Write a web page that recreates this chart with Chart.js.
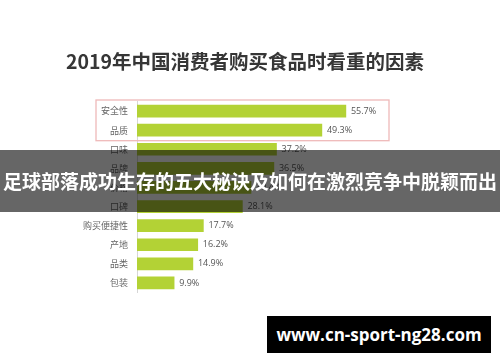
<!DOCTYPE html>
<html>
<head>
<meta charset="utf-8">
<script src="https://cdn.jsdelivr.net/npm/chart.js@4/dist/chart.umd.min.js"></script>
<style>
  html, body { margin: 0; padding: 0; background: #fff; }
  #wrap { position: relative; width: 500px; height: 362px; overflow: hidden; }
  #title {
    position: absolute; left: 0; top: 46px; width: 490px; text-align: center;
    font: bold 19.5px "Noto Sans CJK SC", sans-serif; color: #363636;
  }
  #banner {
    position: absolute; left: 0; top: 150px; width: 500px; height: 62px;
    background: rgba(0, 0, 0, 0.6); color: #fff; text-align: center;
    font: bold 19px/62px "Noto Sans CJK SC", sans-serif; white-space: nowrap;
  }
  #mark {
    position: absolute; left: 267px; top: 316px; width: 224px; height: 37px;
    background: #000; color: #fff; text-align: center;
    font: bold 17px/37px "Open Sans", "DejaVu Sans", sans-serif;
  }
</style>
</head>
<body>
<div id="wrap">
  <canvas id="chart" width="500" height="362"></canvas>
  <div id="title">2019年中国消费者购买食品时看重的因素</div>
  <div id="banner">足球部落成功生存的五大秘诀及如何在激烈竞争中脱颖而出</div>
  <div id="mark">www.cn-sport-ng28.com</div>
</div>
<script>
// chart data
const factors = ['安全性', '品质', '口味', '品牌', '价格', '口碑', '购买便捷性', '产地', '品类', '包装'];
const shares = [55.7, 49.3, 37.2, 36.5, 30.4, 28.1, 17.7, 16.2, 14.9, 9.9];

// draw the percent label at the end of each bar
const valueLabels = {
    id: 'valueLabels',
    afterDatasetsDraw(chart) {
        const ctx = chart.ctx;
        ctx.save();
        ctx.font = '9px "Open Sans", sans-serif';
        ctx.fillStyle = '#555';
        ctx.textBaseline = 'middle';
        chart.getDatasetMeta(0).data.forEach((bar, i) => {
            ctx.fillText(shares[i].toFixed(1) + '%', bar.x + 5, bar.y);
        });
        ctx.restore();
    }
};

// pink frame around the first two rows
const highlightBox = {
    id: 'highlightBox',
    afterDraw(chart) {
        const y = chart.scales.y;
        const x = chart.scales.x;
        const step = y.getPixelForValue(1) - y.getPixelForValue(0);
        const top = y.getPixelForValue(0) - step / 2 - 1.5;
        const bottom = y.getPixelForValue(1) + step / 2 + 1;
        const left = chart.chartArea.left - 41;
        const right = x.getPixelForValue(60) + 27;
        const ctx = chart.ctx;
        ctx.save();
        ctx.strokeStyle = '#efb9b9';
        ctx.lineWidth = 1.3;
        ctx.strokeRect(left, top, right - left, bottom - top);
        ctx.restore();
    }
};

new Chart(document.getElementById('chart'), {
    type: 'bar',
    data: {
        labels: factors,
        datasets: [{
            data: shares,
            backgroundColor: '#b3d235',
            barThickness: 12
        }]
    },
    options: {
        indexAxis: 'y',
        responsive: false,
        animation: false,
        layout: { padding: { top: 101.5, bottom: 69.5, left: 0, right: 138 } },
        plugins: { legend: { display: false }, tooltip: { enabled: false } },
        scales: {
            x: { display: false, min: 0, max: 60 },
            y: {
                afterFit(scale) { scale.width = 137; },
                grid: { display: false, drawTicks: false },
                border: { color: '#d6d6d6', width: 1 },
                ticks: {
                    padding: 9,
                    color: '#666',
                    font: { size: 9, family: '"Noto Sans CJK SC", sans-serif' }
                }
            }
        }
    },
    plugins: [valueLabels, highlightBox]
});
</script>
</body>
</html>
